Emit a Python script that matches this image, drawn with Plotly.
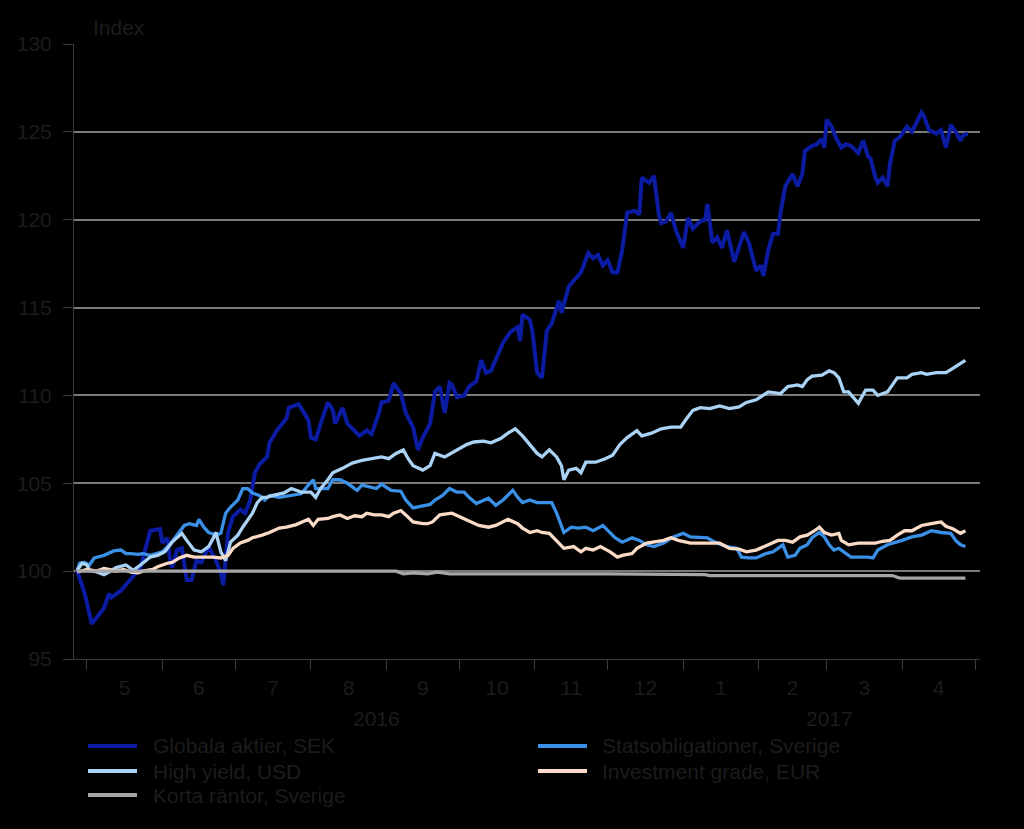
import plotly.graph_objects as go

# ---------------- data ----------------
glob_dates = ["2016-04-27","2016-04-30","2016-05-03","2016-05-08","2016-05-10","2016-05-11","2016-05-15","2016-05-18","2016-05-20","2016-05-23",
 "2016-05-27","2016-05-31","2016-06-01","2016-06-03","2016-06-04","2016-06-05","2016-06-07","2016-06-09","2016-06-11","2016-06-13",
 "2016-06-15","2016-06-17","2016-06-20","2016-06-23","2016-06-25","2016-06-26","2016-06-28","2016-06-30","2016-07-03","2016-07-05",
 "2016-07-07","2016-07-09","2016-07-11","2016-07-14","2016-07-15","2016-07-18","2016-07-22","2016-07-23","2016-07-27","2016-07-29",
 "2016-07-31","2016-08-01","2016-08-03","2016-08-06","2016-08-08","2016-08-10","2016-08-11","2016-08-14","2016-08-16","2016-08-21",
 "2016-08-24","2016-08-26","2016-08-29","2016-08-30","2016-09-02","2016-09-04","2016-09-07","2016-09-09","2016-09-12","2016-09-14",
 "2016-09-16","2016-09-19","2016-09-21","2016-09-23","2016-09-25","2016-09-27","2016-09-28","2016-09-30","2016-10-03","2016-10-05",
 "2016-10-08","2016-10-10","2016-10-12","2016-10-14","2016-10-17","2016-10-19","2016-10-22","2016-10-25","2016-10-26","2016-10-27",
 "2016-10-30","2016-10-31","2016-11-02","2016-11-04","2016-11-06","2016-11-08","2016-11-11","2016-11-12","2016-11-15","2016-11-18",
 "2016-11-20","2016-11-23","2016-11-25","2016-11-27","2016-11-29","2016-12-01","2016-12-03","2016-12-05","2016-12-07","2016-12-09",
 "2016-12-12","2016-12-14","2016-12-15","2016-12-17","2016-12-18","2016-12-20","2016-12-22","2016-12-23","2016-12-25","2016-12-27",
 "2016-12-29","2017-01-01","2017-01-03","2017-01-05","2017-01-08","2017-01-10","2017-01-11","2017-01-13","2017-01-15","2017-01-17",
 "2017-01-19","2017-01-22","2017-01-26","2017-01-28","2017-01-31","2017-02-02","2017-02-03","2017-02-05","2017-02-07","2017-02-09",
 "2017-02-10","2017-02-12","2017-02-15","2017-02-17","2017-02-19","2017-02-20","2017-02-23","2017-02-25","2017-02-27","2017-02-28",
 "2017-03-01","2017-03-03","2017-03-05","2017-03-07","2017-03-09","2017-03-11","2017-03-14","2017-03-16","2017-03-18","2017-03-19",
 "2017-03-21","2017-03-22","2017-03-24","2017-03-26","2017-03-27","2017-03-29","2017-03-31","2017-04-01","2017-04-03","2017-04-05",
 "2017-04-07","2017-04-09","2017-04-10","2017-04-12","2017-04-15","2017-04-17","2017-04-18","2017-04-19","2017-04-21","2017-04-23",
 "2017-04-25","2017-04-26","2017-04-28"]
glob_vals = [100.0,98.75,97.0,97.9,98.7,98.5,98.9,99.4,99.7,100.2,
 102.3,102.4,101.6,101.9,100.8,100.2,101.2,101.3,99.5,99.5,
 100.6,100.5,101.4,100.6,99.9,99.2,102.2,103.1,103.5,103.3,
 104.0,105.6,106.1,106.5,107.3,108.0,108.7,109.3,109.5,109.0,
 108.6,107.6,107.5,108.8,109.6,109.2,108.4,109.3,108.4,107.7,
 108.0,107.8,109.0,109.6,109.7,110.7,110.1,109.0,108.2,106.9,
 107.6,108.4,110.2,110.5,109.0,110.7,110.6,109.9,110.0,110.5,
 110.8,112.0,111.3,111.4,112.4,113.0,113.6,113.9,113.1,114.6,
 114.3,113.7,111.3,111.0,113.7,114.1,115.4,114.7,116.2,116.7,
 117.0,118.1,117.8,118.0,117.4,117.7,117.0,117.0,118.3,120.4,
 120.5,120.3,122.4,122.2,122.1,122.5,120.3,119.8,119.9,120.4,
 119.4,118.4,120.1,119.5,119.9,120.0,120.9,118.7,119.0,118.4,
 119.4,117.6,119.3,118.7,117.1,117.4,116.8,118.3,119.2,119.2,
 120.4,121.9,122.6,121.9,122.6,123.9,124.2,124.3,124.6,124.1,
 125.7,125.3,124.6,124.1,124.3,124.2,123.8,124.5,123.6,123.5,
 122.4,122.1,122.4,121.9,123.2,124.5,124.7,124.9,125.3,125.0,
 125.5,126.1,125.9,125.1,124.9,125.1,124.6,124.1,125.4,125.0,
 124.5,124.8,124.9]

stat_dates = ["2016-04-27","2016-04-28","2016-04-30","2016-05-02","2016-05-04","2016-05-08","2016-05-12","2016-05-15","2016-05-17","2016-05-19",
 "2016-05-22","2016-05-24","2016-05-27","2016-05-30","2016-06-01","2016-06-04","2016-06-07","2016-06-10","2016-06-12","2016-06-15",
 "2016-06-16","2016-06-18","2016-06-20","2016-06-23","2016-06-25","2016-06-27","2016-06-29","2016-07-02","2016-07-04","2016-07-06",
 "2016-07-08","2016-07-11","2016-07-13","2016-07-15","2016-07-19","2016-07-23","2016-07-28","2016-07-31","2016-08-02","2016-08-03",
 "2016-08-06","2016-08-08","2016-08-10","2016-08-13","2016-08-16","2016-08-20","2016-08-22","2016-08-25","2016-08-28","2016-08-30",
 "2016-09-03","2016-09-07","2016-09-09","2016-09-12","2016-09-14","2016-09-17","2016-09-19","2016-09-21","2016-09-24","2016-09-27",
 "2016-09-30","2016-10-03","2016-10-05","2016-10-08","2016-10-11","2016-10-13","2016-10-16","2016-10-19","2016-10-23","2016-10-25",
 "2016-10-27","2016-10-30","2016-11-02","2016-11-08","2016-11-10","2016-11-13","2016-11-16","2016-11-19","2016-11-22","2016-11-25",
 "2016-11-29","2016-12-02","2016-12-04","2016-12-07","2016-12-11","2016-12-14","2016-12-17","2016-12-20","2016-12-24","2016-12-28",
 "2017-01-01","2017-01-04","2017-01-08","2017-01-11","2017-01-14","2017-01-19","2017-01-23","2017-01-25","2017-01-28","2017-01-31",
 "2017-02-04","2017-02-07","2017-02-11","2017-02-13","2017-02-16","2017-02-18","2017-02-21","2017-02-23","2017-02-26","2017-02-28",
 "2017-03-02","2017-03-04","2017-03-06","2017-03-08","2017-03-11","2017-03-14","2017-03-18","2017-03-20","2017-03-22","2017-03-26",
 "2017-03-28","2017-04-01","2017-04-05","2017-04-09","2017-04-13","2017-04-17","2017-04-21","2017-04-23","2017-04-25","2017-04-27"]
stat_vals = [100.05,100.45,100.5,100.35,100.75,100.9,101.15,101.2,101.0,101.0,
 100.95,101.0,100.9,101.0,101.1,101.5,102.05,102.6,102.7,102.6,
 102.95,102.5,102.2,102.05,102.15,103.3,103.65,104.05,104.7,104.7,
 104.45,104.3,104.05,104.3,104.2,104.3,104.4,104.9,105.2,104.7,
 104.7,104.7,105.2,105.2,105.0,104.6,104.9,104.8,104.7,104.95,
 104.6,104.55,104.05,103.6,103.65,103.75,103.8,104.05,104.3,104.7,
 104.5,104.5,104.2,103.85,104.05,104.15,103.75,104.05,104.6,104.2,
 103.9,104.05,103.9,103.9,103.3,102.2,102.5,102.45,102.5,102.3,
 102.6,102.15,101.9,101.65,101.9,101.75,101.5,101.4,101.6,101.95,
 102.15,101.95,101.9,101.9,101.65,101.4,101.3,100.8,100.75,100.75,
 101.0,101.1,101.5,100.8,100.9,101.3,101.5,101.9,102.2,101.95,
 101.5,101.2,101.3,101.1,100.8,100.8,100.8,100.75,101.2,101.5,
 101.6,101.75,101.95,102.05,102.3,102.2,102.15,101.75,101.5,101.4]

hy_dates = ["2016-04-27","2016-04-29","2016-05-01","2016-05-02","2016-05-05","2016-05-08","2016-05-10","2016-05-13","2016-05-17","2016-05-20",
 "2016-05-23","2016-05-27","2016-05-30","2016-06-02","2016-06-05","2016-06-09","2016-06-11","2016-06-14","2016-06-17","2016-06-20",
 "2016-06-22","2016-06-23","2016-06-25","2016-06-27","2016-06-29","2016-07-02","2016-07-04","2016-07-06","2016-07-08","2016-07-10",
 "2016-07-12","2016-07-14","2016-07-16","2016-07-21","2016-07-24","2016-07-28","2016-08-01","2016-08-03","2016-08-05","2016-08-08",
 "2016-08-10","2016-08-14","2016-08-18","2016-08-22","2016-08-26","2016-08-30","2016-09-02","2016-09-05","2016-09-08","2016-09-10",
 "2016-09-12","2016-09-16","2016-09-19","2016-09-21","2016-09-25","2016-09-30","2016-10-04","2016-10-07","2016-10-11","2016-10-14",
 "2016-10-18","2016-10-21","2016-10-24","2016-10-27","2016-10-30","2016-11-02","2016-11-04","2016-11-07","2016-11-10","2016-11-12",
 "2016-11-13","2016-11-15","2016-11-18","2016-11-20","2016-11-22","2016-11-26","2016-11-30","2016-12-03","2016-12-06","2016-12-09",
 "2016-12-13","2016-12-15","2016-12-19","2016-12-23","2016-12-27","2016-12-31","2017-01-02","2017-01-05","2017-01-08","2017-01-12",
 "2017-01-16","2017-01-20","2017-01-24","2017-01-27","2017-01-31","2017-02-05","2017-02-10","2017-02-13","2017-02-17","2017-02-19",
 "2017-02-21","2017-02-23","2017-02-27","2017-03-02","2017-03-04","2017-03-06","2017-03-08","2017-03-10","2017-03-14","2017-03-17",
 "2017-03-20","2017-03-22","2017-03-26","2017-03-28","2017-03-30","2017-04-03","2017-04-05","2017-04-09","2017-04-11","2017-04-15",
 "2017-04-19","2017-04-22","2017-04-25","2017-04-27"]
hy_vals = [100.05,100.45,100.35,100.05,99.95,99.8,99.95,100.2,100.35,100.05,
 100.35,100.8,100.9,101.1,101.65,102.15,101.75,101.2,101.1,101.4,
 101.9,102.2,101.1,100.6,101.65,102.05,102.5,102.9,103.3,103.9,
 104.2,104.2,104.3,104.45,104.7,104.5,104.5,104.2,104.7,105.2,
 105.6,105.85,106.15,106.3,106.4,106.5,106.4,106.7,106.9,106.4,
 106.0,105.75,106.0,106.7,106.5,106.9,107.2,107.35,107.4,107.3,
 107.55,107.85,108.1,107.7,107.2,106.7,106.5,106.9,106.5,106.0,
 105.2,105.75,105.85,105.6,106.2,106.2,106.4,106.6,107.2,107.6,
 108.0,107.7,107.85,108.1,108.2,108.2,108.6,109.15,109.3,109.25,
 109.4,109.25,109.35,109.6,109.75,110.2,110.1,110.5,110.6,110.5,
 110.9,111.1,111.15,111.4,111.3,111.0,110.2,110.2,109.55,110.3,
 110.3,110.0,110.2,110.6,111.0,111.0,111.2,111.3,111.2,111.3,
 111.3,111.55,111.85,112.0]

ig_dates = ["2016-04-27","2016-05-01","2016-05-05","2016-05-08","2016-05-10","2016-05-13","2016-05-16","2016-05-19","2016-05-22","2016-05-24",
 "2016-05-28","2016-05-30","2016-06-03","2016-06-05","2016-06-08","2016-06-11","2016-06-14","2016-06-16","2016-06-19","2016-06-22",
 "2016-06-25","2016-06-28","2016-06-30","2016-07-03","2016-07-06","2016-07-08","2016-07-12","2016-07-15","2016-07-19","2016-07-22",
 "2016-07-26","2016-07-29","2016-07-31","2016-08-02","2016-08-04","2016-08-08","2016-08-10","2016-08-13","2016-08-16","2016-08-19",
 "2016-08-22","2016-08-24","2016-08-27","2016-08-30","2016-09-02","2016-09-04","2016-09-07","2016-09-09","2016-09-12","2016-09-16",
 "2016-09-18","2016-09-20","2016-09-23","2016-09-28","2016-10-01","2016-10-05","2016-10-09","2016-10-13","2016-10-16","2016-10-21",
 "2016-10-25","2016-10-27","2016-10-30","2016-11-02","2016-11-04","2016-11-07","2016-11-10","2016-11-13","2016-11-17","2016-11-20",
 "2016-11-22","2016-11-25","2016-11-28","2016-12-02","2016-12-05","2016-12-07","2016-12-11","2016-12-13","2016-12-17","2016-12-20",
 "2016-12-24","2016-12-27","2016-12-30","2017-01-04","2017-01-08","2017-01-12","2017-01-16","2017-01-20","2017-01-24","2017-01-27",
 "2017-01-31","2017-02-05","2017-02-09","2017-02-12","2017-02-15","2017-02-18","2017-02-21","2017-02-24","2017-02-26","2017-02-28",
 "2017-03-03","2017-03-06","2017-03-07","2017-03-10","2017-03-14","2017-03-18","2017-03-21","2017-03-24","2017-03-27","2017-03-30",
 "2017-04-02","2017-04-05","2017-04-09","2017-04-13","2017-04-17","2017-04-19","2017-04-22","2017-04-25","2017-04-27"]
ig_vals = [99.95,100.1,100.0,100.15,100.1,100.0,100.1,99.95,99.9,100.0,
 100.1,100.25,100.45,100.5,100.75,100.9,100.8,100.8,100.8,100.8,
 100.75,100.9,101.3,101.6,101.75,101.9,102.05,102.2,102.45,102.5,
 102.65,102.8,102.95,102.6,102.95,103.0,103.1,103.2,103.0,103.15,
 103.1,103.3,103.2,103.2,103.1,103.3,103.45,103.2,102.8,102.7,
 102.7,102.8,103.2,103.3,103.1,102.85,102.6,102.5,102.6,102.95,
 102.7,102.45,102.2,102.3,102.2,102.15,101.75,101.3,101.4,101.1,
 101.3,101.2,101.4,101.1,100.8,100.9,101.0,101.3,101.6,101.65,
 101.75,101.9,101.75,101.6,101.6,101.6,101.6,101.3,101.25,101.1,
 101.2,101.5,101.75,101.75,101.65,101.95,102.05,102.3,102.5,102.2,
 102.05,102.15,101.75,101.5,101.6,101.6,101.6,101.7,101.75,102.05,
 102.3,102.3,102.6,102.7,102.8,102.55,102.4,102.15,102.3]

kr_dates = ["2016-04-27","2016-06-01","2016-08-01","2016-09-05","2016-09-08","2016-09-12","2016-09-18","2016-09-22","2016-09-27","2016-10-03",
 "2016-11-01","2016-12-01","2017-01-10","2017-01-12","2017-02-01","2017-03-01","2017-03-28","2017-03-31","2017-04-27"]
kr_vals = [100.0,100.0,100.0,100.0,99.85,99.9,99.85,99.95,99.85,99.85,
 99.85,99.85,99.8,99.75,99.75,99.75,99.75,99.6,99.6]

series_names = ["Globala aktier, SEK", "Statsobligationer, Sverige", "High yield, USD",
                "Investment grade, EUR", "Korta räntor, Sverige"]
series_colors = ["#0b1ca3", "#3a8fe6", "#a9d2f4", "#fbdac6", "#a6a6a6"]

y_ticks = [95, 100, 105, 110, 115, 120, 125, 130]
year_labels = ["2016", "2017"]
year_label_pos = ["2016-08-28", "2017-03-02"]

# ---------------- figure ----------------
TXT = "#1c1c1c"
FONT = "Liberation Sans, Arial, sans-serif"
W, H = 1024, 829
ML, MR, MT, MB = 74, 44, 44, 170
PW, PH = W - ML - MR, H - MT - MB


def px_x(px):
    return (px - ML) / PW


def px_y(py):
    return (H - MB - py) / PH


fig = go.Figure()
xs = [glob_dates, stat_dates, hy_dates, ig_dates, kr_dates]
ys = [glob_vals, stat_vals, hy_vals, ig_vals, kr_vals]
widths = [4, 3.3, 3.3, 3.3, 3.3]
for name, col, x, y, w in zip(series_names, series_colors, xs, ys, widths):
    fig.add_trace(go.Scatter(x=x, y=y, mode="lines", name=name,
                             line=dict(color=col, width=w)))

fig.update_layout(
    width=W, height=H,
    paper_bgcolor="black", plot_bgcolor="black",
    margin=dict(l=ML, r=MR, t=MT, b=MB),
    font=dict(family=FONT, size=21, color=TXT),
    showlegend=False,
    xaxis=dict(type="date", range=["2016-04-25 16:00", "2017-05-03"],
               tick0="2016-05-01", dtick="M1", tickformat="%-m",
               ticklabelmode="period", ticks="outside", ticklen=10,
               tickcolor="#3a3a3a", showgrid=False, showline=True,
               linecolor="#3a3a3a", linewidth=1, zeroline=False,
               tickfont=dict(size=21, color=TXT)),
    yaxis=dict(range=[95, 130], tickvals=y_ticks, ticks="outside", ticklen=10,
               ticklabelstandoff=7,
               tickcolor="#3a3a3a", showgrid=True, gridcolor="#7a7a7a", gridwidth=1.5,
               showline=True, linecolor="#3a3a3a", linewidth=1, zeroline=False,
               tickfont=dict(size=21, color=TXT)),
)

fig.add_annotation(text="Index", x=px_x(91), xref="paper", y=px_y(28), yref="paper",
                   xanchor="left", yanchor="middle", showarrow=False,
                   font=dict(size=21, color=TXT))
for lab, pos in zip(year_labels, year_label_pos):
    fig.add_annotation(text=lab, x=pos, xref="x", y=px_y(718), yref="paper",
                       xanchor="center", yanchor="middle", showarrow=False,
                       font=dict(size=21, color=TXT))

# legend drawn as two columns (column-major order as in the original)
leg_cols = [(88, 137, 151), (538, 587, 600)]
leg_rows = [746, 771, 795]
leg_slots = [(0, 0), (1, 0), (0, 1), (1, 1), (0, 2)]
for name, col, (ci, ri) in zip(series_names, series_colors, leg_slots):
    x0, x1, xt = leg_cols[ci]
    yy = px_y(leg_rows[ri])
    fig.add_shape(type="line", xref="paper", yref="paper",
                  x0=px_x(x0), x1=px_x(x1), y0=yy, y1=yy,
                  line=dict(color=col, width=4))
    fig.add_annotation(text=name, x=px_x(xt), xref="paper", y=yy, yref="paper",
                       xanchor="left", yanchor="middle", showarrow=False,
                       font=dict(size=21, color=TXT))

fig.write_html("out.html")
